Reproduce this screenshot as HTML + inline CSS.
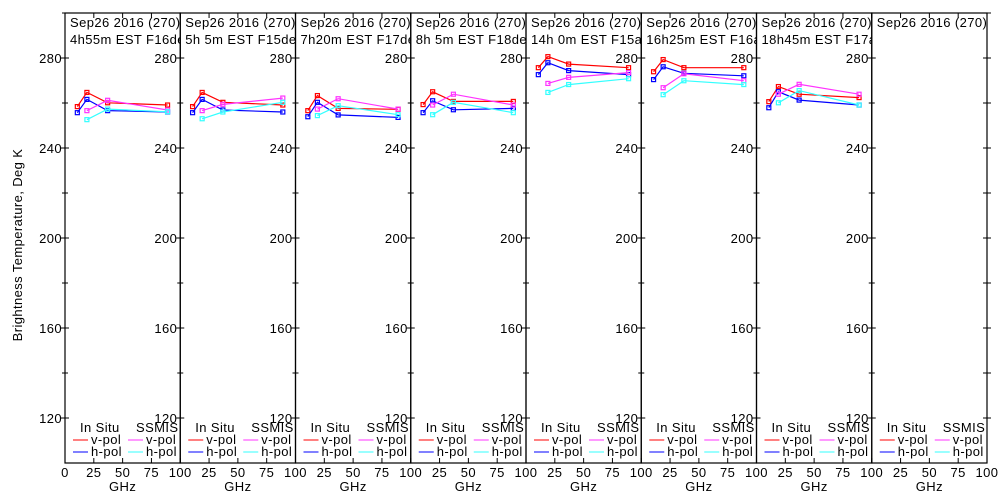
<!DOCTYPE html>
<html><head><meta charset="utf-8"><style>
html,body{margin:0;padding:0;background:#fff;width:1000px;height:500px;overflow:hidden}
text{font-family:"Liberation Sans",sans-serif;font-size:13px;fill:#000;letter-spacing:0.4px}
</style></head><body>
<svg id="chart" width="1000" height="500" xmlns="http://www.w3.org/2000/svg"></svg>
<script>
const freqInSitu=[10.7,19,37,89];
const freqSsmis=[19,37,89];
const titles2=["4h55m  EST F16des","5h 5m  EST F15des","7h20m  EST F17des","8h 5m  EST F18des","14h 0m  EST F15asc","16h25m  EST F16asc","18h45m  EST F17asc",""];
const inSituV=[[258.4,264.7,260.1,259.1],[258.4,264.7,260.3,259.1],[256.6,263.3,257.6,257.2],[259.3,265,260.7,260.7],[275.7,280.6,277.3,275.7],[273.9,279.3,275.7,275.7],[260.6,267.3,263.9,262.4],null];
const inSituH=[[255.7,261.6,256.6,256],[255.7,261.6,256.9,256],[253.9,260.3,254.7,253.6],[255.7,261,257,257.6],[272.6,277.9,274.4,272.6],[270.4,276.1,273.2,272.1],[257.9,265,261.3,259.1],null];
const ssmisV=[[256.6,261.2,256.9],[256.6,259.4,262.2],[257.3,261.9,257.3],[259.1,263.9,259.1],[268.7,271.4,273.5],[266.8,273,269.9],[263.9,268.3,263.9],null];
const ssmisH=[[252.6,257.3,256.1],[253,256,260.3],[254.4,258.8,254.8],[254.8,260.3,255.7],[264.7,268.2,270.8],[263.7,269.9,268.2],[260.1,265.5,259.1],null];
const yTicks=[120,160,200,240,280];
const yMinor=[140,180,220,260,300];
const xTicks=[0,25,50,75,100];

const NS="http://www.w3.org/2000/svg";
const svg=document.getElementById('chart');
function el(tag,attrs,parent){const e=document.createElementNS(NS,tag);for(const k in attrs)e.setAttribute(k,attrs[k]);(parent||svg).appendChild(e);return e;}
const X0=65,PW=115.25,TOP=13,BOT=463;
const yS=v=>58+(280-v)*2.25;
const xS=(i,f)=>X0+i*PW+f*PW/100;

const defs=el('defs',{});
const yt=el('text',{x:22,y:245,transform:'rotate(-90 22 245)','text-anchor':'middle','font-size':'13.5px','letter-spacing':'0.4px'});


yt.textContent='Brightness Temperature, Deg K';

for(let i=0;i<8;i++){
  const L=X0+i*PW,R=L+PW;
  const g=el('g',{});
  
  
  const cp=el('clipPath',{id:'cp'+i},defs);
  el('rect',{x:L,y:TOP,width:PW,height:BOT-TOP},cp);
  el('rect',{x:L,y:TOP,width:PW,height:BOT-TOP,fill:'none',stroke:'#000','stroke-width':1.2},g);
  yTicks.forEach(v=>{el('line',{x1:L-4,x2:L+4,y1:yS(v),y2:yS(v),stroke:'#000'},g);
    const t=el('text',{x:L-3,y:yS(v)+5,'text-anchor':'end'},g);
    
    
    t.textContent=v;});
  yMinor.forEach(v=>{el('line',{x1:L-3,x2:L+3,y1:yS(v),y2:yS(v),stroke:'#000'},g);});
  if(i==7){[...yTicks,...yMinor].forEach(v=>el('line',{x1:R-4,x2:R+4,y1:yS(v),y2:yS(v),stroke:'#000'},g));}
  xTicks.forEach(f=>{const x=xS(i,f);
    el('line',{x1:x,x2:x,y1:BOT,y2:BOT-5,stroke:'#000'},g);
    el('line',{x1:x,x2:x,y1:TOP,y2:TOP+5,stroke:'#000'},g);
    if(i==0||f>0){const t=el('text',{x:x,y:477,'text-anchor':'middle'},g);
      
      
      t.textContent=f;}});
  const xt=el('text',{x:L+PW/2,y:491,'text-anchor':'middle','font-size':'14px'},g);
  
  
  xt.textContent='GHz';
  const cg=el('g',{'clip-path':'url(#cp'+i+')'},g);
  const t1=el('text',{x:L+5,y:27,'xml:space':'preserve','letter-spacing':'0.6px'},cg);
  
  
  t1.textContent='Sep26 2016 (270)';
  const t2=el('text',{x:L+5,y:44,'xml:space':'preserve','letter-spacing':'0.6px'},cg);
  
  
  t2.textContent=titles2[i];
  const series=[[inSituV[i],freqInSitu,'#ff0000','in-situ-v-pol'],[inSituH[i],freqInSitu,'#0000ff','in-situ-h-pol'],[ssmisV[i],freqSsmis,'#ff33ff','ssmis-v-pol'],[ssmisH[i],freqSsmis,'#33ffff','ssmis-h-pol']];
  series.forEach(([vals,fr,col,nm])=>{
    if(!vals)return;
    const pts=vals.map((v,k)=>xS(i,fr[k]).toFixed(1)+','+yS(v).toFixed(1)).join(' ');
    const pl=el('polyline',{points:pts,fill:'none',stroke:col,'stroke-width':1.2},cg);
    
    
    vals.forEach((v,k)=>{const m=el('rect',{x:xS(i,fr[k])-2,y:yS(v)-2,width:4,height:4,fill:'none',stroke:col,'stroke-width':1.2},cg);
      
      });
  });
  const lg=el('g',{},g);
  
  
  const a=el('text',{x:L+15,y:432,'letter-spacing':'0.2px'},lg);a.textContent='In Situ';
  const b=el('text',{x:L+71,y:432,'letter-spacing':'0.2px'},lg);b.textContent='SSMIS';
  [['v-pol','#ff0000','#ff33ff',444],['h-pol','#0000ff','#33ffff',456]].forEach(([lab,c1,c2,yy])=>{
    el('line',{x1:L+8,x2:L+23,y1:yy-4,y2:yy-4,stroke:c1},lg);
    const t=el('text',{x:L+26,y:yy},lg);t.textContent=lab;
    el('line',{x1:L+63,x2:L+78,y1:yy-4,y2:yy-4,stroke:c2},lg);
    const u=el('text',{x:L+81,y:yy},lg);u.textContent=lab;
  });
}
</script>
</body></html>
